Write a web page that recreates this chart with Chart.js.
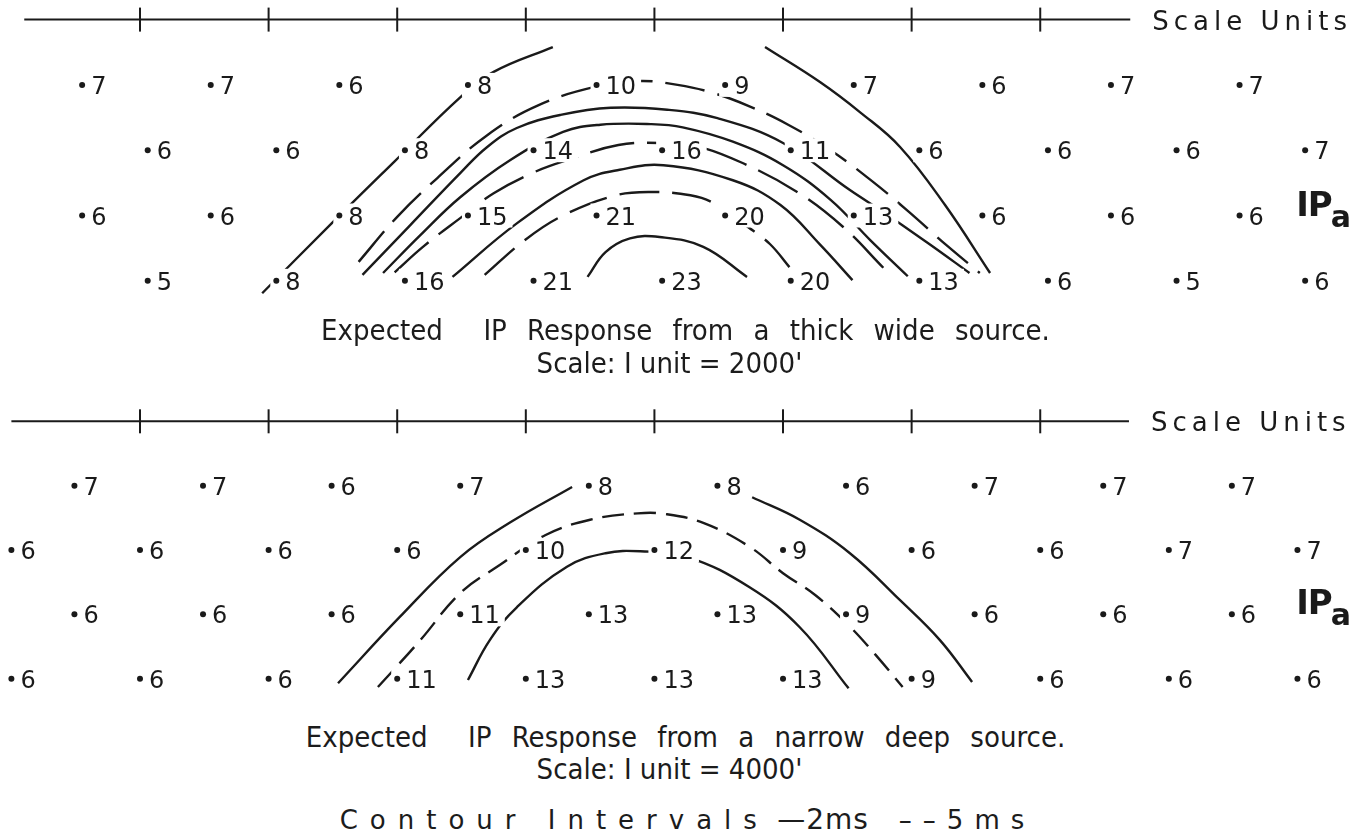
<!DOCTYPE html>
<html>
<head>
<meta charset="utf-8">
<script src="https://cdn.jsdelivr.net/npm/chart.js@4.4.0/dist/chart.umd.min.js"></script>
<style>
  html, body { margin: 0; padding: 0; background: #fff; }
  #page { position: relative; width: 1371px; height: 839px; overflow: hidden; background: #fff; }
  canvas { position: absolute; left: 0; }
  #topChart { top: 0; }
  #bottomChart { top: 402px; }
  .cap {
    position: absolute; width: 1371px; text-align: center; color: #1c1c1c;
    font-family: "Liberation Sans Narrow", "DejaVu Sans Condensed", "DejaVu Sans", sans-serif;
    white-space: nowrap; line-height: 1;
  }
  .legend span { display: inline-block; }
</style>
</head>
<body>
<div id="page">
  <canvas id="topChart" width="1371" height="320"></canvas>
  <canvas id="bottomChart" width="1371" height="296"></canvas>
  <div class="cap" style="left:0; top:316px; font-size:29px; word-spacing:12px;">Expected&nbsp; IP Response from a thick wide source.</div>
  <div class="cap" style="left:-16px; top:349px; font-size:29px;">Scale: I unit = 2000'</div>
  <div class="cap" style="left:0; top:723px; font-size:29px; word-spacing:12px;">Expected&nbsp; IP Response from a narrow deep source.</div>
  <div class="cap" style="left:-16px; top:755px; font-size:29px;">Scale: I unit = 4000'</div>
  <div class="cap legend" style="left:2px; top:806px; font-family:'DejaVu Sans',sans-serif; font-size:26px;"><span style="letter-spacing:12px;">Contour Intervals</span> <span style="letter-spacing:1px; font-size:28px;">—2ms</span><span style="display:inline-block; width:30px;"></span><span style="letter-spacing:11px;">––5ms</span></div>
</div>
<script>
// IP readings, one array per row (n = 1..4), read left to right
const topRow1 = [7, 7, 6, 8, 10, 9, 7, 6, 7, 7];
const topRow2 = [6, 6, 8, 14, 16, 11, 6, 6, 6, 7];
const topRow3 = [6, 6, 8, 15, 21, 20, 13, 6, 6, 6];
const topRow4 = [5, 8, 16, 21, 23, 20, 13, 6, 5, 6];
const bottomRow1 = [7, 7, 6, 7, 8, 8, 6, 7, 7, 7];
const bottomRow2 = [6, 6, 6, 6, 10, 12, 9, 6, 6, 7, 7];
const bottomRow3 = [6, 6, 6, 11, 13, 13, 9, 6, 6, 6];
const bottomRow4 = [6, 6, 6, 11, 13, 13, 13, 9, 6, 6, 6];

// station (scale units) of the first reading in each row; readings are 1 unit apart
const topRowStart = [0.55, 1.06, 0.55, 1.06];
const bottomRowStart = [0.49, 0.0, 0.49, 0.0];

// scale units line
const scaleTicks = [1, 2, 3, 4, 5, 6, 7, 8];
const topAxisSpan = [0.1, 8.7];
const bottomAxisSpan = [0.0, 8.69];

// contours, [station, n] pairs
const topOuterLeft = [[1.95, 4.19], [2.49, 3.12], [2.98, 2.17], [3.49, 1.19], [3.75, 0.80], [4.21, 0.42]];
const topOuterRight = [[5.86, 0.42], [6.29, 0.96], [6.60, 1.42], [6.91, 1.95], [7.26, 2.84], [7.61, 3.88]];
const topDashA = [[2.70, 3.71], [3.00, 3.02], [3.31, 2.43], [3.70, 1.77], [4.10, 1.31], [4.56, 1.02], [4.89, 0.94],
  [5.18, 1.00], [5.45, 1.12], [5.73, 1.32], [6.04, 1.61], [6.37, 2.00], [6.69, 2.47], [6.97, 2.93], [7.28, 3.47], [7.53, 3.88]];
const topSolidB = [[2.73, 3.91], [3.10, 3.15], [3.49, 2.35], [3.70, 1.95], [3.93, 1.66], [4.27, 1.46], [4.66, 1.35],
  [5.10, 1.38], [5.49, 1.51], [6.00, 1.89], [6.52, 2.61], [6.79, 2.96], [7.14, 3.44], [7.45, 3.88]];
const topSolidC = [[2.89, 3.88], [3.18, 3.30], [3.49, 2.72], [3.88, 2.15], [4.29, 1.72], [4.58, 1.61], [4.97, 1.60],
  [5.22, 1.65], [5.61, 1.87], [6.00, 2.23], [6.37, 2.76], [6.68, 3.38], [6.97, 3.93]];
const topDashB = [[2.98, 3.87], [3.20, 3.48], [3.49, 3.04], [3.75, 2.66], [4.05, 2.35], [4.34, 2.14], [4.72, 1.92],
  [5.04, 1.89], [5.33, 1.94], [5.69, 2.20], [6.11, 2.64], [6.47, 3.18], [6.78, 3.80]];
const topSolidD = [[3.43, 3.94], [3.93, 3.12], [4.45, 2.46], [4.73, 2.30], [5.07, 2.23], [5.61, 2.46], [5.98, 2.84],
  [6.29, 3.45], [6.54, 3.99]];
const topDashC = [[3.68, 3.91], [3.99, 3.38], [4.27, 3.02], [4.68, 2.70], [4.97, 2.64], [5.28, 2.69], [5.46, 2.81],
  [5.73, 3.18], [5.90, 3.44], [6.05, 3.79]];
const topSolidE = [[4.48, 3.94], [4.62, 3.56], [4.81, 3.35], [5.04, 3.33], [5.38, 3.48], [5.72, 3.94]];

const bottomOuterLeft = [[2.54, 4.07], [3.02, 3.04], [3.49, 2.11], [3.88, 1.57], [4.36, 1.02]];
const bottomOuterRight = [[5.76, 1.18], [6.13, 1.53], [6.52, 2.05], [6.91, 2.78], [7.22, 3.40], [7.47, 4.05]];
const bottomDash = [[2.85, 4.13], [3.18, 3.40], [3.49, 2.67], [3.80, 2.23], [4.15, 1.77], [4.50, 1.53], [4.87, 1.43],
  [5.08, 1.44], [5.38, 1.58], [5.74, 1.95], [6.00, 2.36], [6.25, 2.70], [6.51, 3.17], [6.72, 3.63], [6.93, 4.13]];
const bottomInner = [[3.55, 4.02], [3.72, 3.40], [3.93, 2.89], [4.32, 2.26], [4.62, 2.05], [4.89, 2.02], [5.26, 2.11],
  [5.74, 2.58], [6.13, 3.20], [6.51, 4.15]];

const INK = '#1a1a1a';
const NUM_FONT = '24px "DejaVu Sans", sans-serif';

function stationPoints(rows, starts) {
  const pts = [];
  rows.forEach((row, r) => {
    row.forEach((v, i) => pts.push({ x: starts[r] + i, y: r + 1, v: v }));
  });
  return pts;
}

function contourSet(points, dashed, dash) {
  return {
    data: points.map(p => ({ x: p[0], y: p[1] })),
    showLine: true,
    borderColor: INK,
    borderWidth: 2.4,
    borderDash: dashed ? dash : [],
    tension: 0.4,
    pointRadius: 0,
    fill: false
  };
}

const labelPlugin = {
  id: 'stationLabels',
  afterDatasetsDraw(chart) {
    const ctx = chart.ctx;
    const xs = chart.scales.x, ys = chart.scales.y;
    const ds = chart.data.datasets[0];
    const meta = chart.getDatasetMeta(0);
    ctx.save();
    ctx.font = NUM_FONT;
    ctx.textBaseline = 'alphabetic';
    meta.data.forEach((pt, i) => {
      const txt = String(ds.data[i].v);
      const w = ctx.measureText(txt).width;
      // white knock-out so contours break at the readings, as on the original
      ctx.fillStyle = '#fff';
      ctx.fillRect(pt.x - 6, pt.y - 12, w + 20, 24);
      pt.draw(ctx);
      ctx.fillStyle = INK;
      ctx.fillText(txt, pt.x + 9, pt.y + 9);
    });
    const opts = chart.options.plugins.stationLabels;
    const axisY = ys.getPixelForValue(0);
    ctx.font = '26px "DejaVu Sans", sans-serif';
    ctx.letterSpacing = '5px';
    ctx.fillText('Scale Units', xs.getPixelForValue(opts.axisEnd) + 22, axisY + 10);
    ctx.letterSpacing = '-1px';
    const ipX = xs.getPixelForValue(opts.ipAt);
    const ipY = ys.getPixelForValue(3);
    ctx.font = 'bold 34px "DejaVu Sans", sans-serif';
    ctx.fillText('IP', ipX, ipY);
    const ipW = ctx.measureText('IP').width;
    ctx.letterSpacing = '0px';
    ctx.font = 'bold 30px "DejaVu Sans", sans-serif';
    ctx.fillText('a', ipX + ipW - 1, ipY + 11);
    ctx.restore();
  }
};

function buildPanel(id, rows, starts, axisSpan, contours, yMax) {
  const datasets = [
    {
      data: stationPoints(rows, starts),
      pointRadius: 3,
      pointBackgroundColor: INK,
      pointBorderWidth: 0,
      showLine: false
    },
    {
      data: axisSpan.map(x => ({ x: x, y: 0 })),
      showLine: true,
      borderColor: INK,
      borderWidth: 2,
      pointRadius: 0
    },
    {
      data: scaleTicks.map(x => ({ x: x, y: 0 })),
      showLine: false,
      pointStyle: 'line',
      rotation: 90,
      pointRadius: 12,
      pointBorderColor: INK,
      pointBorderWidth: 2
    }
  ].concat(contours);

  return new Chart(document.getElementById(id), {
    type: 'scatter',
    data: { datasets: datasets },
    options: {
      responsive: false,
      animation: false,
      devicePixelRatio: 1,
      layout: { padding: 0, autoPadding: false },
      scales: {
        x: { type: 'linear', min: -0.0886, max: 10.572, display: false },
        y: { type: 'linear', reverse: true, min: -0.3, max: yMax, display: false }
      },
      plugins: {
        legend: { display: false },
        tooltip: { enabled: false },
        stationLabels: { axisEnd: axisSpan[1], ipAt: 9.99 }
      }
    },
    plugins: [labelPlugin]
  });
}

const longDash = [40, 13];
const shortDash = [22, 10];

buildPanel('topChart',
  [topRow1, topRow2, topRow3, topRow4], topRowStart, topAxisSpan,
  [
    contourSet(topOuterLeft, false),
    contourSet(topOuterRight, false),
    contourSet(topDashA, true, longDash),
    contourSet(topSolidB, false),
    contourSet(topSolidC, false),
    contourSet(topDashB, true, [45, 13]),
    contourSet(topSolidD, false),
    contourSet(topDashC, true, longDash),
    contourSet(topSolidE, false)
  ], 4.6);

buildPanel('bottomChart',
  [bottomRow1, bottomRow2, bottomRow3, bottomRow4], bottomRowStart, bottomAxisSpan,
  [
    contourSet(bottomOuterLeft, false),
    contourSet(bottomOuterRight, false),
    contourSet(bottomDash, true, shortDash),
    contourSet(bottomInner, false)
  ], 4.3);
</script>
</body>
</html>
